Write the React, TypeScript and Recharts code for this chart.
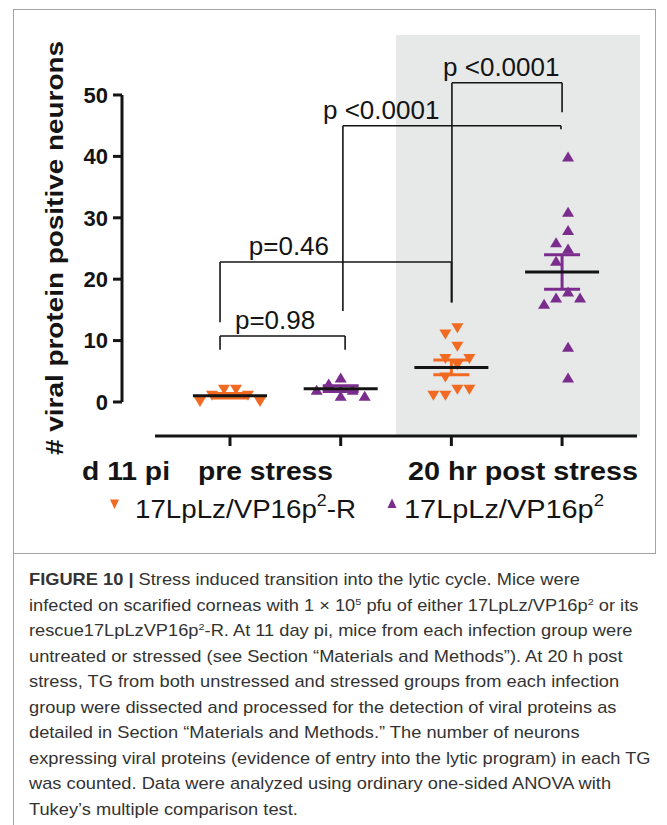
import React from "react";
import {
  ScatterChart,
  Scatter,
  XAxis,
  YAxis,
  ErrorBar,
  ReferenceArea,
  ReferenceLine,
  ReferenceDot,
} from "recharts";

// neurons counted per TG
const preStressRescue = [2, 1, 1, 2, 0, 0];
const preStressMutant = [3, 2, 4, 2, 1, 1];
const postStressRescue = [12, 11, 9, 7, 7, 6, 4, 2, 2, 1, 1];
const postStressMutant = [40, 31, 28, 26, 25, 23, 18, 17, 17, 16, 9, 4];

const yTicks = [0, 10, 20, 30, 40, 50];
const groupTicks = [0, 1, 2, 3];

// significance brackets, in group / value units
const brackets = [
  { text: "p=0.98", from: -0.09, to: 1.04, y: 10.75, leftEnd: 8.5, rightEnd: 8.5, labelX: 0.045 },
  { text: "p=0.46", from: -0.09, to: 2.0, y: 22.8, leftEnd: 13.0, rightEnd: 16.2, labelX: 0.17 },
  { text: "p <0.0001", from: 1.02, to: 2.99, y: 45.0, leftEnd: 14.8, rightEnd: 44.4, labelX: 0.84 },
  { text: "p <0.0001", from: 2.005, to: 3.0, y: 52.0, leftEnd: 16.2, rightEnd: 47.2, labelX: 1.925 },
];

const ORANGE = "#f26a21";
const PURPLE = "#7b2d8e";
const INK = "#141414";
const FONT = "'Liberation Sans', Arial, Helvetica, sans-serif";

const W = 667;
const H = 560;
const MARGIN = { top: 35, right: 27, bottom: 94, left: 62 };
const Y_AXIS_W = 60;
const X_AXIS_H = 30;
const X_MIN = -0.9756;
const X_MAX = 3.704;
const Y_MIN = -5.54;
const Y_MAX = 59.77;
const PLOT_W = W - MARGIN.left - MARGIN.right - Y_AXIS_W;
const PLOT_H = H - MARGIN.top - MARGIN.bottom - X_AXIS_H;
const X_PX = PLOT_W / (X_MAX - X_MIN);
const Y_PX = PLOT_H / (Y_MAX - Y_MIN);
const MARK_W = 12;
const MARK_H = 13;

// simple beeswarm so overlapping symbols sit side by side
function spread(values: number[]): number[] {
  const order = values.map((_, i) => i).sort((a, b) => values[b] - values[a]);
  const placed: { dx: number; py: number }[] = [];
  const out = new Array(values.length).fill(0);
  for (const i of order) {
    const py = values[i] * Y_PX;
    let dx = 0;
    for (let k = 0; k < 300; k++) {
      const cands = k === 0 ? [0] : [-k, k];
      const hit = cands.find((c) =>
        placed.every((p) => Math.abs(p.dx - c) >= MARK_W || Math.abs(p.py - py) >= MARK_H)
      );
      if (hit !== undefined) {
        dx = hit;
        break;
      }
    }
    placed.push({ dx, py });
    out[i] = dx;
  }
  const lo = Math.min(...out);
  const hi = Math.max(...out);
  const mid = (lo + hi) / 2;
  return out.map((d) => (d - mid) / X_PX);
}

const mean = (a: number[]) => a.reduce((s, v) => s + v, 0) / a.length;
const sem = (a: number[]) => {
  const m = mean(a);
  const sd = Math.sqrt(a.reduce((s, v) => s + (v - m) ** 2, 0) / (a.length - 1));
  return sd / Math.sqrt(a.length);
};

const points = (values: number[], group: number) => {
  const off = spread(values);
  return values.map((v, i) => ({ x: group + off[i], y: v }));
};
const summary = (values: number[], group: number) => ({
  x: group,
  y: mean(values),
  err: sem(values),
});

const orangePoints = [...points(preStressRescue, 0), ...points(postStressRescue, 2)];
const purplePoints = [...points(preStressMutant, 1), ...points(postStressMutant, 3)];
const orangeSummary = [summary(preStressRescue, 0), summary(postStressRescue, 2)];
const purpleSummary = [summary(preStressMutant, 1), summary(postStressMutant, 3)];

const DownTri = (props: any) => {
  const { cx, cy } = props;
  return <polygon points={`${cx - 6},${cy - 5} ${cx + 6},${cy - 5} ${cx},${cy + 5}`} fill={ORANGE} />;
};

const UpTri = (props: any) => {
  const { cx, cy } = props;
  return <polygon points={`${cx - 6},${cy + 5} ${cx + 6},${cy + 5} ${cx},${cy - 5}`} fill={PURPLE} />;
};

const MeanLine = (props: any) => {
  const { cx, cy } = props;
  return <line x1={cx - 37} x2={cx + 37} y1={cy} y2={cy} stroke={INK} strokeWidth={3} />;
};

const bracketLabel = (text: string) => (p: any) => {
  const vb = p.viewBox ?? { x: p.x, y: p.y };
  return (
    <text x={vb.x} y={vb.y - 7} fontSize={26} fill={INK} fontFamily={FONT}>
      {text}
    </text>
  );
};

const lineStyle = { stroke: INK, strokeWidth: 1.6, ifOverflow: "visible" as const };

function Chart() {
  return (
    <ScatterChart width={W} height={H} margin={MARGIN} style={{ fontFamily: FONT }}>
      <ReferenceArea
        x1={1.5}
        x2={X_MAX}
        y1={Y_MIN}
        y2={Y_MAX}
        fill="#e7e8e8"
        fillOpacity={1}
        stroke="none"
        ifOverflow="visible"
      />
      <XAxis
        type="number"
        dataKey="x"
        domain={[X_MIN, X_MAX]}
        ticks={groupTicks}
        tickFormatter={() => ""}
        axisLine={false}
        tickLine={{ stroke: INK, strokeWidth: 3 }}
        tickSize={10}
        height={X_AXIS_H}
        allowDataOverflow
      />
      <YAxis
        type="number"
        dataKey="y"
        domain={[Y_MIN, Y_MAX]}
        ticks={yTicks}
        axisLine={false}
        tickLine={{ stroke: INK, strokeWidth: 3 }}
        tickSize={9}
        tickMargin={5}
        width={Y_AXIS_W}
        tick={{ fontSize: 22, fontWeight: 700, fill: INK }}
        allowDataOverflow
      />
      <ReferenceLine
        segment={[{ x: X_MIN, y: 0 }, { x: X_MIN, y: 50 }]}
        stroke={INK}
        strokeWidth={3}
        ifOverflow="visible"
      />
      <ReferenceLine
        segment={[{ x: -0.6775, y: Y_MIN }, { x: 3.677, y: Y_MIN }]}
        stroke={INK}
        strokeWidth={3}
        ifOverflow="visible"
      />
      {brackets.map((b, i) => [
        <ReferenceLine key={`h${i}`} segment={[{ x: b.from, y: b.y }, { x: b.to, y: b.y }]} {...lineStyle} />,
        <ReferenceLine key={`l${i}`} segment={[{ x: b.from, y: b.y }, { x: b.from, y: b.leftEnd }]} {...lineStyle} />,
        <ReferenceLine key={`r${i}`} segment={[{ x: b.to, y: b.y }, { x: b.to, y: b.rightEnd }]} {...lineStyle} />,
        <ReferenceDot
          key={`t${i}`}
          x={b.labelX}
          y={b.y}
          r={0}
          fill="none"
          stroke="none"
          ifOverflow="visible"
          label={bracketLabel(b.text)}
        />,
      ])}
      <Scatter data={orangePoints} shape={<DownTri />} isAnimationActive={false} />
      <Scatter data={purplePoints} shape={<UpTri />} isAnimationActive={false} />
      <Scatter data={orangeSummary} shape={<MeanLine />} isAnimationActive={false}>
        <ErrorBar dataKey="err" direction="y" width={18} stroke={ORANGE} strokeWidth={3} isAnimationActive={false} />
      </Scatter>
      <Scatter data={purpleSummary} shape={<MeanLine />} isAnimationActive={false}>
        <ErrorBar dataKey="err" direction="y" width={18} stroke={PURPLE} strokeWidth={3} isAnimationActive={false} />
      </Scatter>
    </ScatterChart>
  );
}

const sup = { fontSize: "0.6em", verticalAlign: "0.6em", lineHeight: 0 } as const;

export default function App() {
  return (
    <div style={{ position: "absolute", left: 0, top: 0, width: 667, height: 825, background: "#fff", overflow: "hidden" }}>
      <div style={{ position: "absolute", left: 13, top: 9, width: 643, height: 545, border: "1px solid #a3a3a3", boxSizing: "border-box" }} />
      <div style={{ position: "absolute", left: 13, top: 553, width: 1, height: 272, background: "#a3a3a3" }} />
      <div style={{ position: "absolute", left: 0, top: 0 }}>
        <Chart />
      </div>
      <svg width={W} height={H} style={{ position: "absolute", left: 0, top: 0, pointerEvents: "none" }} fontFamily={FONT}>
        <text
          transform="translate(62.5,248) rotate(-90)"
          textAnchor="middle"
          fontSize={24}
          fontWeight={700}
          fill={INK}
          textLength={414}
          lengthAdjust="spacingAndGlyphs"
        >
          # viral protein positive neurons
        </text>
        <g fontSize={26} fontWeight={700} fill={INK}>
          <text x={82} y={480} textLength={88} lengthAdjust="spacingAndGlyphs">d 11 pi</text>
          <text x={198} y={480} textLength={135} lengthAdjust="spacingAndGlyphs">pre stress</text>
          <text x={408} y={480} textLength={230} lengthAdjust="spacingAndGlyphs">20 hr post stress</text>
        </g>
        <polygon points="110,499.5 119,499.5 114.5,509" fill={ORANGE} />
        <polygon points="387.5,508 396.5,508 392,498.5" fill={PURPLE} />
        <g fontSize={25} fill={INK}>
          <text x={135} y={518} textLength={221} lengthAdjust="spacingAndGlyphs">
            17LpLz/VP16p
            <tspan fontSize={16} dy={-12}>2</tspan>
            <tspan dy={12}>-R</tspan>
          </text>
          <text x={404} y={518} textLength={200} lengthAdjust="spacingAndGlyphs">
            17LpLz/VP16p
            <tspan fontSize={16} dy={-12}>2</tspan>
          </text>
        </g>
      </svg>
      <div
        style={{
          position: "absolute",
          left: 29,
          top: 567,
          fontFamily: FONT,
          fontSize: 16.6,
          lineHeight: "25.5px",
          color: "#333",
          whiteSpace: "pre",
          transform: "scaleX(1.1)",
          transformOrigin: "0 0",
        }}
      >
        <div>
          <b>FIGURE 10 |</b> Stress induced transition into the lytic cycle. Mice were
        </div>
        <div>
          infected on scarified corneas with 1 × 10<span style={sup}>5</span> pfu of either 17LpLz/VP16p
          <span style={sup}>2</span> or its
        </div>
        <div>
          rescue17LpLzVP16p<span style={sup}>2</span>-R. At 11 day pi, mice from each infection group were
        </div>
        <div>untreated or stressed (see Section “Materials and Methods”). At 20 h post</div>
        <div>stress, TG from both unstressed and stressed groups from each infection</div>
        <div>group were dissected and processed for the detection of viral proteins as</div>
        <div>detailed in Section “Materials and Methods.” The number of neurons</div>
        <div>expressing viral proteins (evidence of entry into the lytic program) in each TG</div>
        <div>was counted. Data were analyzed using ordinary one-sided ANOVA with</div>
        <div>Tukey’s multiple comparison test.</div>
      </div>
    </div>
  );
}
